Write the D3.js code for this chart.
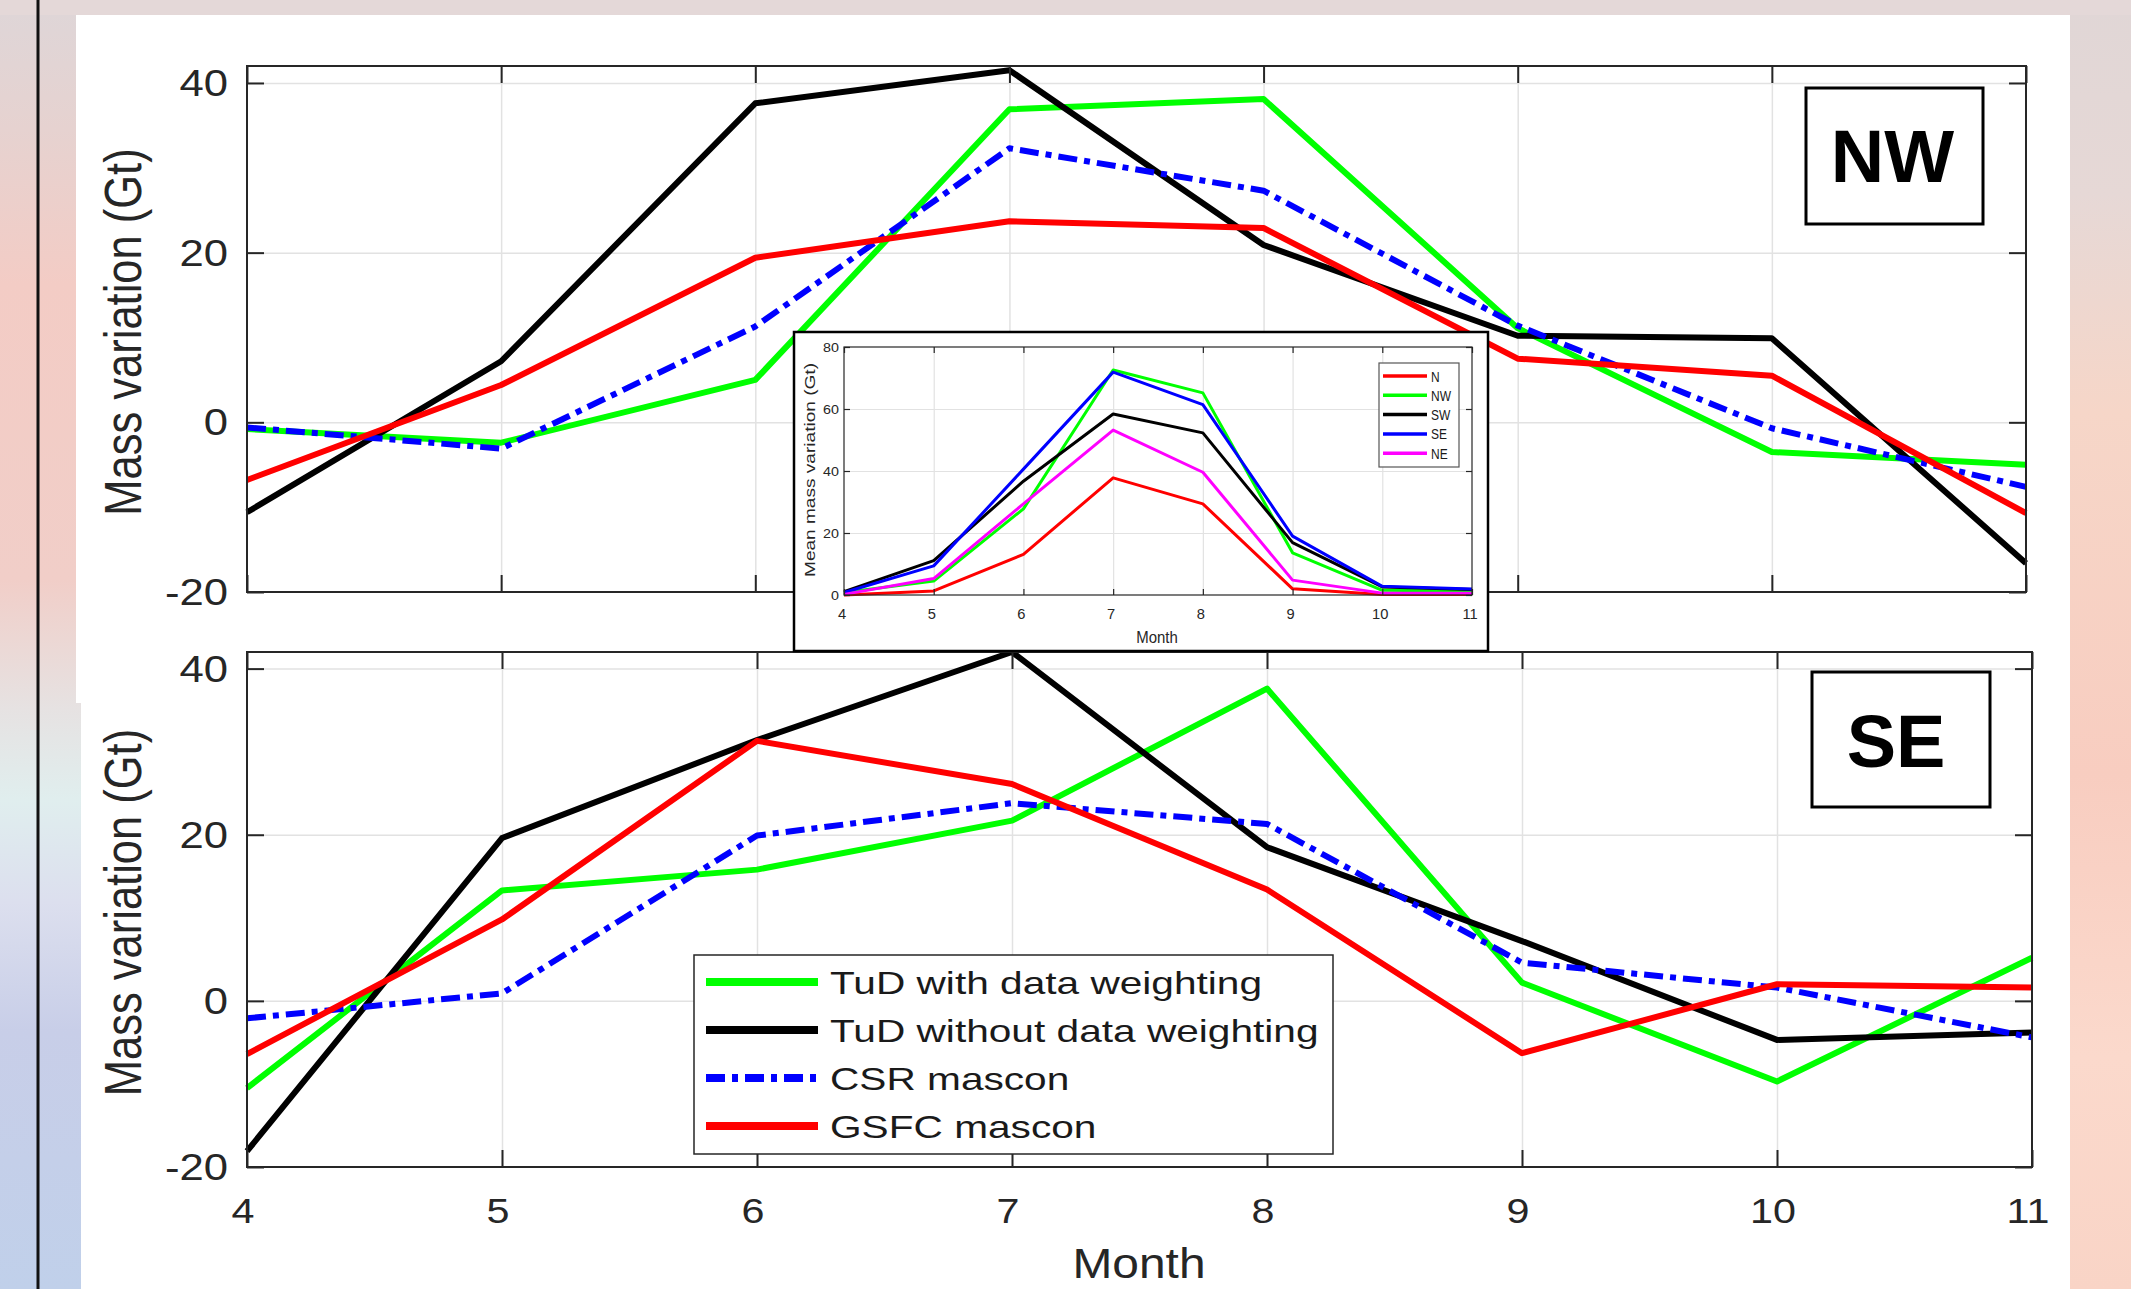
<!DOCTYPE html>
<html>
<head>
<meta charset="utf-8">
<script src="https://cdn.jsdelivr.net/npm/d3@7"></script>
<style>
  body { margin: 0; background: #ffffff; }
  svg { display: block; font-family: "Liberation Sans", Arial, sans-serif; }
</style>
</head>
<body>
<div class="chart"></div>
<script>
// months on the x axis
const months = [4, 5, 6, 7, 8, 9, 10, 11]
const massTicks = [-20, 0, 20, 40]
const meanTicks = [0, 20, 40, 60, 80]

// main legend
const seriesNames = ["TuD with data weighting", "TuD without data weighting", "CSR mascon", "GSFC mascon"]
const seriesColors = ["#00ff00", "#000000", "#0000ff", "#ff0000"]

// NW basin (Gt)
const nwTudWeighted   = [-0.8, -2.4, 5.0, 36.9, 38.1, 11.1, -3.5, -5.0]
const nwTudUnweighted = [-10.6, 7.2, 37.6, 41.5, 20.9, 10.2, 9.9, -16.6]
const nwCsr           = [-0.6, -3.1, 11.3, 32.3, 27.3, 11.4, -0.7, -7.6]
const nwGsfc          = [-6.8, 4.4, 19.4, 23.7, 22.9, 7.5, 5.5, -10.7]

// SE basin (Gt)
const seTudWeighted   = [-10.5, 13.3, 15.8, 21.7, 37.6, 2.2, -9.7, 5.2]
const seTudUnweighted = [-18.1, 19.6, 31.4, 42.0, 18.5, 7.2, -4.7, -3.8]
const seCsr           = [-2.1, 0.9, 19.9, 23.8, 21.3, 4.6, 1.6, -4.4]
const seGsfc          = [-6.4, 9.8, 31.3, 26.1, 13.4, -6.3, 2.0, 1.6]

// inset: mean mass variation per region
const regionNames = ["N", "NW", "SW", "SE", "NE"]
const regionColors = ["#ff0000", "#00ff00", "#000000", "#0000ff", "#ff00ff"]
const meanN  = [0.0, 1.3, 13.1, 37.8, 29.4, 2.0, 0.2, 0.2]
const meanNW = [0.8, 4.5, 27.8, 72.6, 65.2, 13.6, 1.5, 1.2]
const meanSW = [1.1, 11.1, 36.7, 58.4, 52.3, 16.9, 2.6, 1.8]
const meanSE = [0.8, 9.4, 40.6, 71.9, 61.4, 19.0, 2.8, 1.9]
const meanNE = [0.2, 5.3, 29.4, 53.2, 39.6, 4.8, 0.6, 0.6]

const W = 2131, H = 1289
const SX = 1.18   // the figure is a bit wider than tall in its text
const axisColor = "#262626"
const gridColor = "#e2e2e2"
const dashDot = "19,7,6,7"

const svg = d3.select(".chart").append("svg").attr("width", W).attr("height", H)
const defs = svg.append("defs")

// slide background
const leftGrad = defs.append("linearGradient").attr("id", "leftbg").attr("x1", 0).attr("y1", 0).attr("x2", 0).attr("y2", 1)
;[[0, "#ded6d8"], [0.1, "#e6d2d0"], [0.22, "#f3ccc5"], [0.45, "#f1cec8"], [0.55, "#e6e2e2"], [0.62, "#e0eeee"], [0.7, "#dcdfee"], [0.8, "#c8cee8"], [1, "#c0d0ea"]]
  .forEach(s => leftGrad.append("stop").attr("offset", s[0]).attr("stop-color", s[1]))
const rightGrad = defs.append("linearGradient").attr("id", "rightbg").attr("x1", 0).attr("y1", 0).attr("x2", 0).attr("y2", 1)
;[[0, "#e0d6d6"], [0.15, "#e6d8d6"], [0.32, "#f6d6c8"], [0.6, "#f8cdc0"], [0.82, "#fbd9cc"], [1, "#f9d4c6"]]
  .forEach(s => rightGrad.append("stop").attr("offset", s[0]).attr("stop-color", s[1]))

svg.append("rect").attr("x", 0).attr("y", 0).attr("width", W).attr("height", H).attr("fill", "url(#leftbg)")
svg.append("rect").attr("x", 1000).attr("y", 0).attr("width", W - 1000).attr("height", H).attr("fill", "url(#rightbg)")
svg.append("rect").attr("x", 0).attr("y", 0).attr("width", W).attr("height", 15).attr("fill", "#e4d8d8")
svg.append("rect").attr("x", 76).attr("y", 15).attr("width", 2070 - 76).attr("height", 703 - 15).attr("fill", "#fff")
svg.append("rect").attr("x", 81).attr("y", 703).attr("width", 2070 - 81).attr("height", H - 703).attr("fill", "#fff")
svg.append("rect").attr("x", 36.5).attr("y", 0).attr("width", 3).attr("height", H).attr("fill", "#111")

// text helper: stretched horizontally like the source raster
function label(parent, x, y, str, size, opt = {}) {
  const sx = opt.sx || 1
  const rot = opt.rotate ? ` rotate(${opt.rotate})` : ""
  return parent.append("text")
    .attr("transform", `translate(${x},${y}) scale(${sx},1)${rot}`)
    .attr("text-anchor", opt.anchor || "middle")
    .attr("font-size", size)
    .attr("font-weight", opt.weight || "normal")
    .attr("fill", opt.fill || axisColor)
    .text(str)
}

function drawPanel(cfg) {
  const g = svg.append("g")
  const x = d3.scaleLinear().domain([4, 11]).range([cfg.x0, cfg.x1])
  const y = d3.scaleLinear().domain([-20, 42]).range([cfg.yBot, cfg.yTop])
  const w = cfg.x1 - cfg.x0, h = cfg.yBot - cfg.yTop

  // grid
  g.append("g").attr("transform", `translate(0,${cfg.yBot})`)
    .call(d3.axisBottom(x).tickValues(months.slice(1, -1)).tickSize(-h).tickFormat(""))
    .call(a => a.select(".domain").remove())
    .selectAll("line").attr("stroke", gridColor).attr("stroke-width", 1.5)
  g.append("g").attr("transform", `translate(${cfg.x0},0)`)
    .call(d3.axisLeft(y).tickValues([0, 20, 40]).tickSize(-w).tickFormat(""))
    .call(a => a.select(".domain").remove())
    .selectAll("line").attr("stroke", gridColor).attr("stroke-width", 1.5)

  // series
  const line = d3.line().x((d, i) => x(months[i])).y(d => y(d))
  cfg.series.forEach((s, k) => {
    g.append("path").datum(s)
      .attr("d", line)
      .attr("fill", "none")
      .attr("stroke", seriesColors[k])
      .attr("stroke-width", 6)
      .attr("stroke-linejoin", "round")
      .attr("stroke-dasharray", k === 2 ? dashDot : null)
  })

  // box + inward ticks on all sides
  g.append("rect").attr("x", cfg.x0).attr("y", cfg.yTop).attr("width", w).attr("height", h)
    .attr("fill", "none").attr("stroke", axisColor).attr("stroke-width", 2)
  const tick = 17
  const axes = [
    [d3.axisLeft(y).tickValues(massTicks), `translate(${cfg.x0},0)`],
    [d3.axisRight(y).tickValues(massTicks), `translate(${cfg.x1},0)`],
    [d3.axisTop(x).tickValues(months), `translate(0,${cfg.yTop})`],
    [d3.axisBottom(x).tickValues(months), `translate(0,${cfg.yBot})`]
  ]
  axes.forEach(([ax, tr]) => {
    g.append("g").attr("transform", tr)
      .call(ax.tickSize(-tick).tickFormat(""))
      .call(a => a.select(".domain").remove())
      .selectAll("line").attr("stroke", axisColor).attr("stroke-width", 2)
  })

  // tick labels
  g.selectAll(".ylab").data(massTicks).join("text")
    .attr("class", "ylab")
    .attr("transform", d => `translate(${cfg.x0 - 19},${y(d) + 13}) scale(${SX},1)`)
    .attr("text-anchor", "end").attr("font-size", 37).attr("fill", axisColor)
    .text(d => d)
  if (cfg.showX) {
    g.selectAll(".xlab").data(months).join("text")
      .attr("class", "xlab")
      .attr("transform", d => `translate(${x(d) - 4},${cfg.yBot + 56}) scale(${SX},1)`)
      .attr("text-anchor", "middle").attr("font-size", 35).attr("fill", axisColor)
      .text(d => d)
    label(g, 1139, 1278, "Month", 42, { sx: 1.14 })
  }
  label(g, 141, (cfg.yTop + cfg.yBot) / 2 + 3, "Mass variation (Gt)", 43.5, { sx: 1.2, rotate: -90 })

  // region box
  const b = cfg.box
  g.append("rect").attr("x", b.x).attr("y", b.y).attr("width", b.w).attr("height", b.h)
    .attr("fill", "#fff").attr("stroke", "#000").attr("stroke-width", 3)
  label(g, b.x + b.w / 2 + b.dx, b.y + b.base, cfg.name, b.size, { weight: "bold", fill: "#000" })
  return { g, x, y }
}

drawPanel({
  x0: 247, x1: 2026, yTop: 66, yBot: 592,
  series: [nwTudWeighted, nwTudUnweighted, nwCsr, nwGsfc],
  name: "NW", showX: false,
  box: { x: 1806, y: 88, w: 177, h: 136, base: 94, size: 74, dx: -2 }
})

drawPanel({
  x0: 247, x1: 2032, yTop: 652, yBot: 1167,
  series: [seTudWeighted, seTudUnweighted, seCsr, seGsfc],
  name: "SE", showX: true,
  box: { x: 1812, y: 672, w: 178, h: 135, base: 95, size: 74, dx: -5 }
})

// main legend
const leg = svg.append("g")
leg.append("rect").attr("x", 694).attr("y", 955).attr("width", 639).attr("height", 199)
  .attr("fill", "#fff").attr("stroke", axisColor).attr("stroke-width", 1.5)
seriesNames.forEach((name, k) => {
  const ly = 982 + k * 48
  leg.append("line").attr("x1", 706).attr("x2", 818).attr("y1", ly).attr("y2", ly)
    .attr("stroke", seriesColors[k]).attr("stroke-width", 8)
    .attr("stroke-dasharray", k === 2 ? dashDot : null)
  label(leg, 830, ly + 12, name, 32, { sx: 1.27, anchor: "start", fill: "#1a1a1a" })
})

// inset
const inset = svg.append("g")
inset.append("rect").attr("x", 794).attr("y", 332).attr("width", 694).attr("height", 319)
  .attr("fill", "#fff").attr("stroke", "#000").attr("stroke-width", 2.5)
const ix = d3.scaleLinear().domain([4, 11]).range([844, 1472])
const iy = d3.scaleLinear().domain([0, 80]).range([595, 347])

inset.append("g").attr("transform", "translate(0,595)")
  .call(d3.axisBottom(ix).tickValues(months.slice(1, -1)).tickSize(-248).tickFormat(""))
  .call(a => a.select(".domain").remove())
  .selectAll("line").attr("stroke", gridColor).attr("stroke-width", 1.2)
inset.append("g").attr("transform", "translate(844,0)")
  .call(d3.axisLeft(iy).tickValues([20, 40, 60]).tickSize(-628).tickFormat(""))
  .call(a => a.select(".domain").remove())
  .selectAll("line").attr("stroke", gridColor).attr("stroke-width", 1.2)

const iline = d3.line().x((d, i) => ix(months[i])).y(d => iy(d))
;[meanN, meanNW, meanSW, meanSE, meanNE].forEach((s, k) => {
  inset.append("path").datum(s).attr("d", iline)
    .attr("fill", "none").attr("stroke", regionColors[k]).attr("stroke-width", 3)
    .attr("stroke-linejoin", "round")
})

inset.append("rect").attr("x", 844).attr("y", 347).attr("width", 628).attr("height", 248)
  .attr("fill", "none").attr("stroke", axisColor).attr("stroke-width", 1.2)
;[
  [d3.axisLeft(iy).tickValues(meanTicks), "translate(844,0)"],
  [d3.axisRight(iy).tickValues(meanTicks), "translate(1472,0)"],
  [d3.axisTop(ix).tickValues(months), "translate(0,347)"],
  [d3.axisBottom(ix).tickValues(months), "translate(0,595)"]
].forEach(([ax, tr]) => {
  inset.append("g").attr("transform", tr)
    .call(ax.tickSize(-6).tickFormat(""))
    .call(a => a.select(".domain").remove())
    .selectAll("line").attr("stroke", axisColor).attr("stroke-width", 1.2)
})
inset.selectAll(".iylab").data(meanTicks).join("text")
  .attr("class", "iylab")
  .attr("transform", d => `translate(839,${iy(d) + 5}) scale(1.1,1)`)
  .attr("text-anchor", "end").attr("font-size", 13).attr("fill", axisColor)
  .text(d => d)
inset.selectAll(".ixlab").data(months).join("text")
  .attr("class", "ixlab")
  .attr("transform", d => `translate(${ix(d) - 2},${619}) scale(1.05,1)`)
  .attr("text-anchor", "middle").attr("font-size", 14).attr("fill", axisColor)
  .text(d => d)
label(inset, 1157, 643, "Month", 17, { sx: 0.88 })
inset.append("text")
  .attr("transform", "translate(815,470) rotate(-90)")
  .attr("text-anchor", "middle").attr("font-size", 14).attr("fill", axisColor)
  .attr("textLength", 214).attr("lengthAdjust", "spacingAndGlyphs")
  .text("Mean mass variation (Gt)")

// inset legend
const ileg = inset.append("g")
ileg.append("rect").attr("x", 1379).attr("y", 363).attr("width", 80).attr("height", 104)
  .attr("fill", "#fff").attr("stroke", "#555").attr("stroke-width", 1.2)
regionNames.forEach((name, k) => {
  const ly = 376 + k * 19.3
  ileg.append("line").attr("x1", 1383).attr("x2", 1427).attr("y1", ly).attr("y2", ly)
    .attr("stroke", regionColors[k]).attr("stroke-width", 3.5)
  label(ileg, 1431, ly + 5.5, name, 15, { sx: 0.8, anchor: "start", fill: "#1a1a1a" })
})
</script>
</body>
</html>
